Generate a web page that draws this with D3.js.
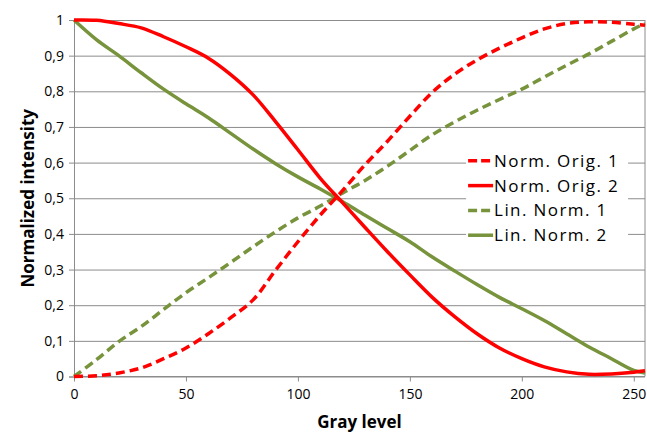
<!DOCTYPE html>
<html>
<head>
<meta charset="utf-8">
<script src="https://cdn.jsdelivr.net/npm/d3@7"></script>
<style>
  body { margin: 0; background: #fff; }
  text { font-family: "Open Sans", sans-serif; fill: #000; }
</style>
</head>
<body>
<div id="chart"></div>
<script>
const grayLevels = [0, 10, 20, 30, 40, 50, 60, 70, 80, 90, 100, 110, 120, 130, 140, 150, 160, 170, 180, 190, 200, 210, 220, 230, 240, 250, 255];

const normOrig1 = [0.0, 0.002, 0.01, 0.024, 0.05, 0.08, 0.12, 0.165, 0.215, 0.298, 0.378, 0.453, 0.522, 0.594, 0.66, 0.73, 0.797, 0.848, 0.888, 0.921, 0.95, 0.975, 0.99, 0.995, 0.994, 0.988, 0.985];
const normOrig2 = [1.0, 0.999, 0.99, 0.978, 0.953, 0.925, 0.893, 0.847, 0.79, 0.715, 0.636, 0.556, 0.487, 0.418, 0.35, 0.285, 0.222, 0.168, 0.12, 0.08, 0.05, 0.027, 0.013, 0.006, 0.007, 0.012, 0.016];
const linNorm1 = [0.0, 0.047, 0.098, 0.14, 0.188, 0.235, 0.277, 0.32, 0.364, 0.406, 0.445, 0.478, 0.515, 0.55, 0.59, 0.634, 0.678, 0.714, 0.747, 0.777, 0.806, 0.84, 0.873, 0.905, 0.94, 0.975, 0.99];
const linNorm2 = [1.0, 0.945, 0.9, 0.852, 0.806, 0.765, 0.726, 0.682, 0.638, 0.597, 0.56, 0.526, 0.49, 0.452, 0.415, 0.378, 0.335, 0.296, 0.258, 0.222, 0.19, 0.157, 0.12, 0.083, 0.05, 0.017, 0.01];

const xTicks = [0, 50, 100, 150, 200, 250];
const yTicks = [0, 0.1, 0.2, 0.3, 0.4, 0.5, 0.6, 0.7, 0.8, 0.9, 1];
const yTickLabels = ["0", "0,1", "0,2", "0,3", "0,4", "0,5", "0,6", "0,7", "0,8", "0,9", "1"];

const seriesNames = ["Norm. Orig. 1", "Norm. Orig. 2", "Lin. Norm. 1", "Lin. Norm. 2"];

// Настройки графика
const width = 647;
const height = 432;
const margin = { top: 20, right: 2, bottom: 55.5, left: 74 };
const innerW = width - margin.left - margin.right;
const innerH = height - margin.top - margin.bottom;

const red = "#ff0000";
const green = "#77933c";
const gridColor = "#8c8c8c";

const series = [
    { name: seriesNames[0], values: normOrig1, color: red, dash: "9,5" },
    { name: seriesNames[1], values: normOrig2, color: red, dash: null },
    { name: seriesNames[2], values: linNorm1, color: green, dash: "9,5" },
    { name: seriesNames[3], values: linNorm2, color: green, dash: null }
];

const svg = d3.select("#chart")
    .append("svg")
    .attr("width", width)
    .attr("height", height)
    .append("g")
    .attr("transform", `translate(${margin.left},${margin.top})`);

const x = d3.scaleLinear()
    .domain([0, 255])
    .range([0, innerW]);

const y = d3.scaleLinear()
    .domain([0, 1])
    .range([innerH, 0]);

// horizontal grid + left axis
svg.append("g")
    .call(d3.axisLeft(y).tickValues(yTicks).tickSize(5).tickPadding(5)
        .tickFormat((d, i) => yTickLabels[i]))
    .call(g => g.selectAll(".tick line").attr("stroke", gridColor))
    .call(g => g.selectAll(".tick line").clone()
        .attr("x1", 0)
        .attr("x2", innerW)
        .attr("stroke", gridColor))
    .call(g => g.select(".domain").attr("stroke", gridColor))
    .call(g => g.selectAll("text").attr("font-size", 14).attr("font-family", "Open Sans"));

// right border
svg.append("line")
    .attr("x1", innerW).attr("x2", innerW)
    .attr("y1", 0).attr("y2", innerH)
    .attr("stroke", gridColor);

// bottom axis
svg.append("g")
    .attr("transform", `translate(0,${innerH})`)
    .call(d3.axisBottom(x).tickValues(xTicks).tickSize(5).tickPadding(8))
    .call(g => g.selectAll(".tick line").attr("stroke", gridColor))
    .call(g => g.select(".domain").attr("stroke", gridColor).attr("d", `M0.5,0H${innerW}`))
    .call(g => g.selectAll("text").attr("font-size", 14).attr("font-family", "Open Sans"));

// curves
const line = d3.line()
    .x((d, i) => x(grayLevels[i]))
    .y(d => y(d))
    .curve(d3.curveCatmullRom.alpha(0.5));

const drawOrder = [3, 2, 1, 0];
drawOrder.forEach(k => {
    const s = series[k];
    svg.append("path")
        .datum(s.values)
        .attr("fill", "none")
        .attr("stroke", s.color)
        .attr("stroke-width", 3.5)
        .attr("stroke-dasharray", s.dash)
        .attr("d", line);
});

// legend
const legend = svg.append("g")
    .attr("transform", `translate(${x(176)},${y(0.605)})`);

legend.append("rect")
    .attr("x", -2)
    .attr("y", -10)
    .attr("width", 162)
    .attr("height", 100)
    .attr("fill", "#fff");

series.forEach((s, i) => {
    const row = legend.append("g")
        .attr("transform", `translate(0,${i * 24.8})`);
    row.append("line")
        .attr("x1", 0).attr("x2", 25)
        .attr("y1", 0).attr("y2", 0)
        .attr("stroke", s.color)
        .attr("stroke-width", 3.5)
        .attr("stroke-dasharray", s.dash ? "9,4" : null);
    row.append("text")
        .attr("x", 26)
        .attr("y", 0)
        .attr("dy", "0.35em")
        .attr("font-size", 17)
        .attr("letter-spacing", 1.4)
        .text(s.name);
});

// axis titles
svg.append("text")
    .attr("x", innerW / 2)
    .attr("y", innerH + 51)
    .attr("text-anchor", "middle")
    .attr("font-size", 17)
    .attr("font-weight", "bold")
    .text("Gray level");

svg.append("text")
    .attr("transform", `translate(${34 - margin.left},${innerH / 2}) rotate(-90)`)
    .attr("text-anchor", "middle")
    .attr("font-size", 17)
    .attr("font-weight", "bold")
    .text("Normalized intensity");
</script>
</body>
</html>
